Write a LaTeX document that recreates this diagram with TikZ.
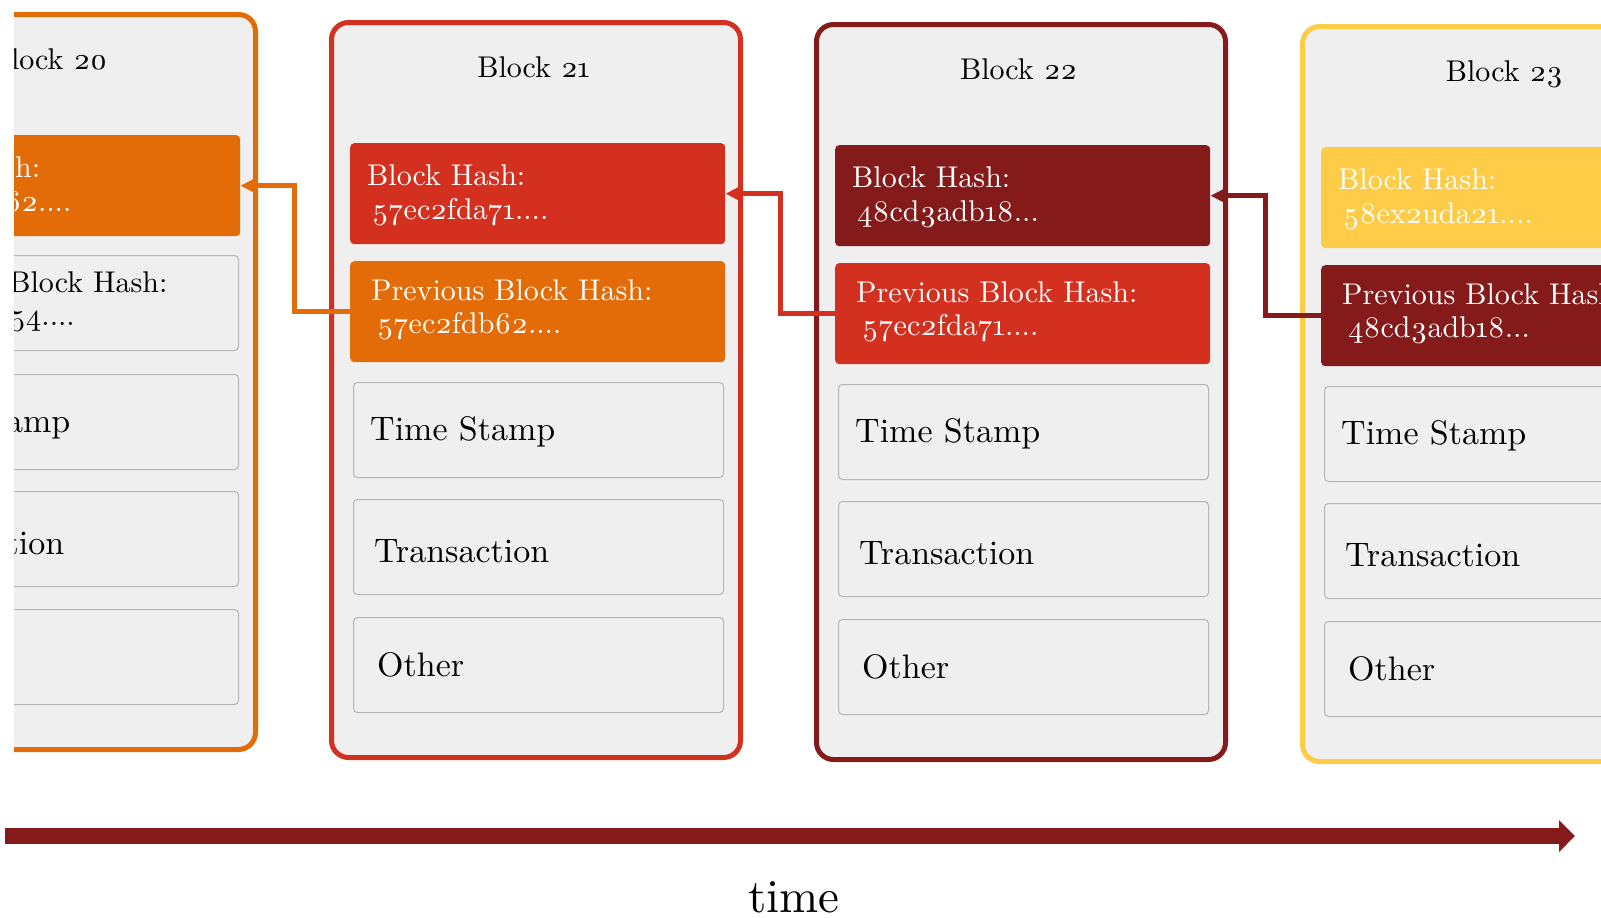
\documentclass[tikz,border=0pt]{standalone}
\usepackage{fontspec}
\setmainfont{lmroman10-regular.otf}[Numbers=OldStyle]
\usetikzlibrary{arrows.meta}
\definecolor{corange}{HTML}{E36C09}
\definecolor{cred}{HTML}{D4301F}
\definecolor{cdark}{HTML}{841A1A}
\definecolor{cyellow}{HTML}{FECC46}
\definecolor{cfill}{HTML}{EFEFEF}
\definecolor{cgborder}{HTML}{B5B5B5}
\newcommand\cbtitlefont{\fontsize{30}{36}\selectfont}
\newcommand\cbhashfont{\fontsize{30}{36}\selectfont}
\newcommand\cbfieldfont{\fontsize{34}{40}\selectfont}
\newcommand\cbtimefont{\fontsize{47}{56}\selectfont}
\tikzset{
  outerbox/.style={line width=5pt, fill=cfill, rounded corners=17pt, anchor=north west,
    inner sep=0pt, minimum width=409pt, minimum height=735pt},
  colbox/.style={draw=none, rounded corners=4pt, anchor=north west, inner sep=0pt,
    minimum width=375pt, minimum height=101pt},
  gbox/.style={draw=cgborder, line width=1pt, fill=cfill, rounded corners=4pt, anchor=north west,
    inner sep=0pt, minimum width=370pt, minimum height=95pt},
  pgray/.style={gbox, xshift=3pt, yshift=-2pt},
  titletext/.style={anchor=base, inner sep=0pt, font=\cbtitlefont, text=black},
  hashtext/.style={anchor=base west, inner sep=0pt, font=\cbhashfont},
  fieldtext/.style={anchor=base west, inner sep=0pt, font=\cbfieldfont, text=black},
  conn/.style={line width=5pt, -{Triangle[length=17pt,width=16pt]}},
}
% #1 name, #2 shift, #3 title, #4 outer colour, #5 hash colour, #6 hash,
% #7 prev box style, #8 prev text colour, #9 prev hash
\newcommand\chainblock[9]{%
  \begin{scope}[shift={#2}]
    \node[outerbox, draw=#4] (#1o) at (329,20) {};
    \node[titletext] (#1t) at (533.5,77) {#3};
    \node[colbox, fill=#5] (#1h) at (350,143) {};
    \node[hashtext, text=white] (#1ha) at (367,185) {Block Hash:};
    \node[hashtext, text=white] (#1hb) at (372,219) {#6};
    \node[#7] (#1p) at (350,261) {};
    \node[hashtext, text=#8] (#1pa) at (371,300) {Previous Block Hash:};
    \node[hashtext, text=#8] (#1pb) at (377,333) {#9};
    \node[gbox] (#1s) at (353,382) {};
    \node[fieldtext] (#1sa) at (370,440) {Time Stamp};
    \node[gbox] (#1x) at (353,499) {};
    \node[fieldtext] (#1xa) at (374,562) {Transaction};
    \node[gbox] (#1r) at (353,617) {};
    \node[fieldtext] (#1ra) at (377,676) {Other};
  \end{scope}}
\begin{document}
\begin{tikzpicture}[x=1pt, y=-1pt]
\useasboundingbox (0,0) rectangle (1601,918);
\begin{scope}
  \clip (14,0) rectangle (1601,918);
  \chainblock{b20}{(-485,-8)}{Block 20}{corange}{corange}{57ec2fdb62....}{pgray}{black}{57ec2fdb54....}
  \chainblock{b21}{(0,0)}{Block 21}{cred}{cred}{57ec2fda71....}{colbox, fill=corange}{white}{57ec2fdb62....}
  \chainblock{b22}{(485,2)}{Block 22}{cdark}{cdark}{48cd3adb18...}{colbox, fill=cred}{white}{57ec2fda71....}
  \chainblock{b23}{(971,4)}{Block 23}{cyellow}{cyellow}{58ex2uda21....}{colbox, fill=cdark}{white}{48cd3adb18...}
  \coordinate (e1) at (294,0);
  \coordinate (e2) at (780,0);
  \coordinate (e3) at (1265,0);
  \draw[conn, draw=corange] (b21p.west) -- (b21p.west -| e1) -- (b20h.east -| e1) -- (b20h.east);
  \draw[conn, draw=cred] (b22p.west) -- (b22p.west -| e2) -- (b21h.east -| e2) -- (b21h.east);
  \draw[conn, draw=cdark] (b23p.west) -- (b23p.west -| e3) -- (b22h.east -| e3) -- (b22h.east);
\end{scope}
\coordinate (tstart) at (5,836);
\coordinate (tend) at (1575,836);
\draw[line width=16pt, draw=cdark, -{Triangle[length=16pt,width=31pt]}] (tstart) -- (tend);
\node[anchor=base, inner sep=0pt, font=\cbtimefont] (tlabel) at (794,912) {time};
\end{tikzpicture}
\end{document}
